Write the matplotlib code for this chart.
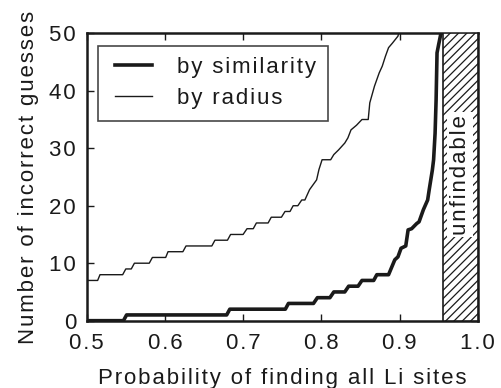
import matplotlib
matplotlib.use("Agg")
import matplotlib.pyplot as plt
from matplotlib.patches import Rectangle
from matplotlib.lines import Line2D
from matplotlib.legend_handler import HandlerLine2D

plt.rcParams['font.family'] = ['Liberation Sans', 'DejaVu Sans']
plt.rcParams['hatch.linewidth'] = 0.9

# curve corners (x = probability, y = incorrect guesses)
sim_x = [0.500, 0.547, 0.551, 0.679, 0.683, 0.754, 0.758, 0.790, 0.795, 0.811,
         0.816, 0.830, 0.835, 0.847, 0.852, 0.867, 0.871, 0.886, 0.894, 0.898,
         0.902, 0.908, 0.911, 0.9155, 0.922, 0.925, 0.9305, 0.936, 0.938, 0.940,
         0.942, 0.9436, 0.9455, 0.9468, 0.948, 0.950, 0.953]
sim_y = [0, 0, 1, 1, 2, 2, 3, 3, 4, 4,
         5, 5, 6, 6, 7, 7, 8, 8, 10.6, 11.1,
         12.6, 13, 15.8, 16, 16.9, 17.2, 19.3, 21.0, 22.8, 24.5,
         26.2, 28, 32.6, 38.4, 46.6, 48, 50]

rad_x = [0.500, 0.514, 0.517, 0.546, 0.550, 0.557, 0.561, 0.580, 0.584, 0.601,
         0.604, 0.623, 0.627, 0.660, 0.664, 0.680, 0.684, 0.700, 0.705, 0.713,
         0.717, 0.732, 0.736, 0.749, 0.7536, 0.760, 0.764, 0.770, 0.775, 0.779,
         0.785, 0.794, 0.797, 0.801, 0.812, 0.816, 0.822, 0.830, 0.834, 0.838,
         0.845, 0.852, 0.860, 0.862, 0.868, 0.874, 0.878, 0.882, 0.886, 0.891,
         0.898, 0.899]
rad_y = [7, 7, 8, 8, 9, 9, 10, 10, 11, 11,
         12, 12, 13, 13, 14, 14, 15, 15, 16, 16,
         17, 17, 18, 18, 19, 19, 20, 20, 21, 21,
         22.8, 24.5, 26.3, 28, 28, 28.9, 29.7, 30.9, 31.8, 33.2,
         34.0, 35, 35, 37.9, 40.8, 43.1, 44.3, 46.0, 47.5, 48.3,
         49.5, 50]

unfindable_from = 0.955
xticks = [0.5, 0.6, 0.7, 0.8, 0.9, 1.0]
xtick_labels = ["0.5", "0.6", "0.7", "0.8", "0.9", "1.0"]
yticks = [0, 10, 20, 30, 40, 50]
ytick_labels = ["0", "10", "20", "30", "40", "50"]


def spaced(s):
    # the original text is set with a little extra letter spacing
    return "\u200a".join(s)


ink = "#1a1a1a"
fs = 16

fig = plt.figure(figsize=(5.02, 3.88), dpi=100)
ax = fig.add_axes([0.1727, 0.1735, 0.9516 - 0.1727, 0.9142 - 0.1735])

ax.plot(sim_x, sim_y, color=ink, lw=2.6, label=spaced("by similarity"), solid_joinstyle='round')
ax.plot(rad_x, rad_y, color=ink, lw=1.0, label=spaced("by radius"))

ax.add_patch(Rectangle((unfindable_from, 0), 1.0 - unfindable_from, 50,
                       facecolor='white', edgecolor=ink, hatch='////', lw=1.2, zorder=3))
ax.text((unfindable_from + 1.0) / 2, 25.4, spaced("unfindable"), rotation=90,
        ha='center', va='center', fontsize=fs, color=ink, zorder=4,
        bbox=dict(facecolor='white', edgecolor='none', pad=2))

ax.set_xlim(0.5, 1.0)
ax.set_ylim(0, 50)
ax.set_xticks(xticks)
ax.set_xticklabels([spaced(t) for t in xtick_labels])
ax.set_yticks(yticks)
ax.set_yticklabels([spaced(t) for t in ytick_labels])
ax.tick_params(direction='in', top=True, right=True, length=5, width=1.0,
               labelsize=fs, colors=ink)
ax.tick_params(axis='x', pad=9)
ax.tick_params(axis='y', pad=7.7)
for sp in ax.spines.values():
    sp.set_linewidth(1.8)
    sp.set_color(ink)

ax.set_xlabel(spaced("Probability of finding all Li sites"), fontsize=fs, color=ink)
ax.set_ylabel(spaced("Number of incorrect guesses"), fontsize=fs, color=ink)
ax.xaxis.set_label_coords(0.5, -0.164)
ax.yaxis.set_label_coords(-0.122, 0.5)

leg = ax.legend(loc='upper left', bbox_to_anchor=(0.0297, 0.957), borderaxespad=0,
                fontsize=fs, frameon=True, fancybox=False, handlelength=1.88,
                handletextpad=1.16, labelspacing=0.45, borderpad=0.52,
                handler_map={Line2D: HandlerLine2D(xpad=0.22)})
leg.get_frame().set_edgecolor(ink)
leg.get_frame().set_linewidth(1.2)
for t in leg.get_texts():
    t.set_color(ink)

fig.savefig("out.png", dpi=100)
